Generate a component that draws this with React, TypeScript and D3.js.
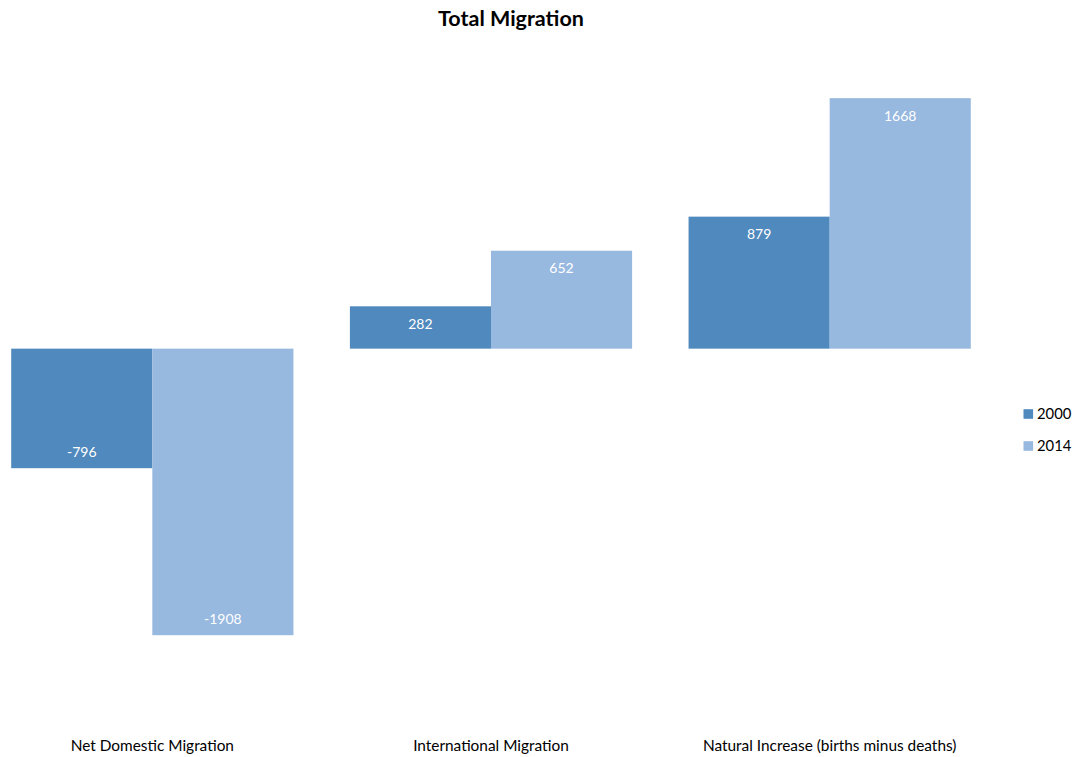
import React from "react";
import * as d3 from "d3";

const categories = [
  "Net Domestic Migration",
  "International Migration",
  "Natural Increase (births minus deaths)",
];
const seriesNames = ["2000", "2014"];
const values2000 = [-796, 282, 879];
const values2014 = [-1908, 652, 1668];
const colors = ["#4F89BD", "#97B8DF"];

const W = 1076;
const H = 757;
const FONT = "Lato, 'Open Sans', sans-serif";

export default function App() {
  const x = d3
    .scaleBand<string>()
    .domain(categories)
    .range([-17, 999])
    .paddingInner(0.1667)
    .paddingOuter(0.0833);
  const xs = d3.scaleBand<string>().domain(seriesNames).range([0, x.bandwidth()]);
  const y = d3.scaleLinear().domain([-2500, 2000]).range([724.1, 48.3]);
  const series = [values2000, values2014];
  const legend = d3.scalePoint<string>().domain(seriesNames).range([414, 446]);

  return (
    <svg width={W} height={H} style={{ position: "absolute", left: 0, top: 0, background: "#fff" }}>
      <text x={511} y={25.5} textAnchor="middle" fontFamily={FONT} fontWeight="bold" fontSize={21.5} fill="#000">
        Total Migration
      </text>
      {series.map((vals, si) =>
        vals.map((v, ci) => {
          const bx = (x(categories[ci]) as number) + (xs(seriesNames[si]) as number);
          const y0 = y(Math.max(0, v));
          const y1 = y(Math.min(0, v));
          const lx = bx + xs.bandwidth() / 2;
          const ly = v >= 0 ? y(v) + 22.5 : y(v) - 11;
          return (
            <g key={`${si}-${ci}`}>
              <rect x={bx} y={y0} width={xs.bandwidth()} height={y1 - y0} fill={colors[si]} />
              <text x={lx} y={ly} textAnchor="middle" fontFamily={FONT} fontSize={14} fill="#fff">
                {v}
              </text>
            </g>
          );
        })
      )}
      {categories.map((c) => (
        <text
          key={c}
          x={(x(c) as number) + x.bandwidth() / 2}
          y={751}
          textAnchor="middle"
          fontFamily={FONT}
          fontSize={15.4}
          fill="#000"
        >
          {c}
        </text>
      ))}
      {seriesNames.map((s, i) => (
        <g key={s}>
          <rect x={1023.5} y={(legend(s) as number) - 4.8} width={9.6} height={9.6} fill={colors[i]} />
          <text x={1037} y={(legend(s) as number) + 5.3} fontFamily={FONT} fontSize={14.8} fill="#000">
            {s}
          </text>
        </g>
      ))}
    </svg>
  );
}
